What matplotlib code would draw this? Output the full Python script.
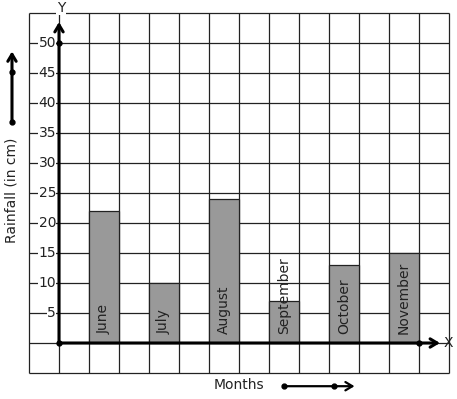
import matplotlib.pyplot as plt

# Data
months = ["June", "July", "August", "September", "October", "November"]
rainfall = [22, 10, 24, 7, 13, 15]
bar_pos = [1.5, 3.5, 5.5, 7.5, 9.5, 11.5]
y_ticks = [5, 10, 15, 20, 25, 30, 35, 40, 45, 50]

fig = plt.figure(figsize=(4.57, 3.99), dpi=100)
ax = fig.add_axes([0, 0, 1, 1])
ax.set_xlim(-59 / 30, 398 / 30)
ax.set_ylim(-56 / 6, 343 / 6)
ax.axis("off")

# graph paper grid
ax.vlines(range(-1, 14), -5, 55, color="#222222", lw=0.9, zorder=1)
ax.hlines(range(-5, 56, 5), -1, 13, color="#222222", lw=0.9, zorder=1)

# bars
ax.bar(bar_pos, rainfall, width=1, color="#999999", edgecolor="#222222", lw=0.9, zorder=2)
for x, m in zip(bar_pos, months):
    ax.text(x, 1.5, m, rotation=90, ha="center", va="bottom", fontsize=10, color="#222222", zorder=3)

# y tick labels
for v in y_ticks:
    ax.text(-0.1, v, str(v), ha="right", va="center", fontsize=10, color="#222222", zorder=3,
            bbox=dict(facecolor="white", edgecolor="none", pad=0.3))

# axes with arrows
arrow = dict(arrowstyle="->,head_length=0.5,head_width=0.3", lw=2.2, color="black", shrinkA=0, shrinkB=0)
ax.annotate("", xy=(0, 53.5), xytext=(0, 0), arrowprops=arrow, zorder=4)
ax.annotate("", xy=(12.7, 0), xytext=(0, 0), arrowprops=arrow, zorder=4)
ax.plot([0, 0, 12], [0, 50, 0], "o", color="black", ms=3.5, zorder=5)
ax.text(12.97, 0, "X", ha="center", va="center", fontsize=10, color="#222222")
ax.text(0.07, 55.9, "Y", ha="center", va="center", fontsize=10, color="#222222",
        bbox=dict(facecolor="white", edgecolor="none", pad=0.3))

# axis titles with direction arrows
ax.text(-1.567, 25.5, "Rainfall (in cm)", rotation=90, ha="center", va="center", fontsize=10, color="#222222")
ax.annotate("", xy=(-1.567, 48.6), xytext=(-1.567, 36.83), arrowprops=arrow)
ax.plot([-1.567, -1.567], [36.83, 45.17], "o", color="black", ms=3.5)

ax.text(6.0, -7, "Months", ha="center", va="center", fontsize=10, color="#222222")
ax.annotate("", xy=(9.85, -7.2), xytext=(7.5, -7.2), arrowprops=dict(arrow, lw=1.6))
ax.plot([7.5, 9.17], [-7.2, -7.2], "o", color="black", ms=3.5)

fig.savefig("out.png", dpi=100)
